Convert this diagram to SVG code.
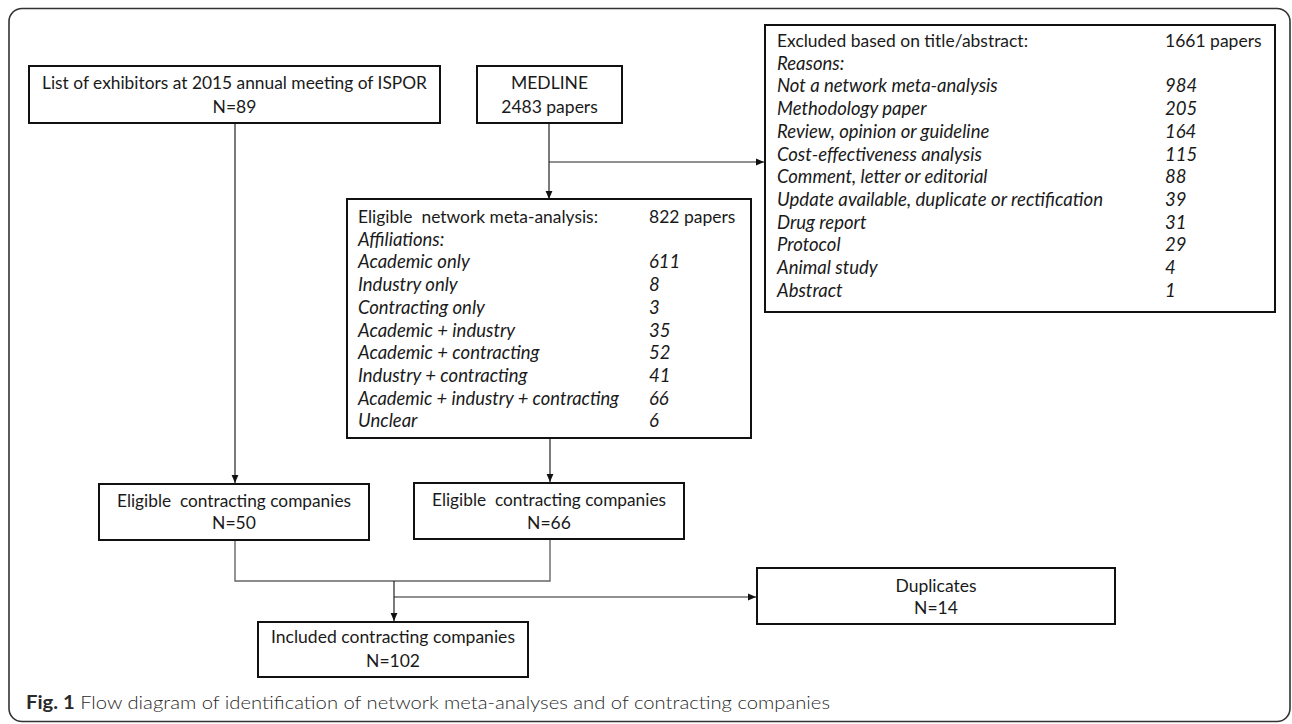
<svg xmlns="http://www.w3.org/2000/svg" width="1292" height="724" viewBox="0 0 1292 724">
<style>
.box{fill:#fff;stroke:#111;stroke-width:2}
.t{font-family:Lato,"Liberation Sans",sans-serif;font-size:17.5px;fill:#1a1a1a}
.c{text-anchor:middle}
.i{font-style:italic;font-size:18.5px}
.ln{fill:none;stroke:#222;stroke-width:1.2}
.lg{fill:none;stroke:#666;stroke-width:1.4}
.cap{font-family:Lato,"Liberation Sans",sans-serif;font-size:18.5px;fill:#2a2a2a;font-weight:300}
</style>
<defs>
<marker id="arr" viewBox="0 0 8 8" refX="8" refY="4" markerWidth="8" markerHeight="8" markerUnits="userSpaceOnUse" orient="auto">
<path d="M0,0.6 L8,4 L0,7.4 z" fill="#111"/>
</marker>
</defs>
<rect x="9" y="8.5" width="1281" height="713" rx="13" ry="13" fill="#fff" stroke="#333" stroke-width="1.6"/>

<g id="connectors">
<path class="ln" d="M235,123 V483" marker-end="url(#arr)"/>
<path class="ln" d="M549,123 V199" marker-end="url(#arr)"/>
<path class="ln" d="M549,162 H764" marker-end="url(#arr)"/>
<path class="ln" d="M550,439 V482" marker-end="url(#arr)"/>
<path class="lg" d="M235,540 V581 H550 V539"/>
<path class="ln" d="M394,581 V621" marker-end="url(#arr)"/>
<path class="ln" d="M394,597 H756" marker-end="url(#arr)"/>
</g>

<g id="ispor">
<rect class="box" x="29" y="66" width="411" height="57"/>
<text class="t c" x="234.5" y="89" textLength="385" lengthAdjust="spacingAndGlyphs">List of exhibitors at 2015 annual meeting of ISPOR</text>
<text class="t c" x="234.5" y="113">N=89</text>
</g>

<g id="medline">
<rect class="box" x="477" y="66" width="145" height="57"/>
<text class="t c" x="549.5" y="89">MEDLINE</text>
<text class="t c" x="549.5" y="113">2483 papers</text>
</g>

<g id="excluded">
<rect class="box" x="765" y="25" width="510" height="287"/>
<text class="t" x="777" y="47" textLength="251" lengthAdjust="spacingAndGlyphs">Excluded based on title/abstract:</text>
<text class="t" x="1165" y="47">1661 papers</text>
<text class="t i" x="777" y="69.7">Reasons:</text>
<text class="t i" x="777" y="92.4">Not a network meta-analysis</text>
<text class="t i" x="1165" y="92.4">984</text>
<text class="t i" x="777" y="115.1">Methodology paper</text>
<text class="t i" x="1165" y="115.1">205</text>
<text class="t i" x="777" y="137.8">Review, opinion or guideline</text>
<text class="t i" x="1165" y="137.8">164</text>
<text class="t i" x="777" y="160.5">Cost-effectiveness analysis</text>
<text class="t i" x="1165" y="160.5">115</text>
<text class="t i" x="777" y="183.2">Comment, letter or editorial</text>
<text class="t i" x="1165" y="183.2">88</text>
<text class="t i" x="777" y="205.9" textLength="326" lengthAdjust="spacingAndGlyphs">Update available, duplicate or rectification</text>
<text class="t i" x="1165" y="205.9">39</text>
<text class="t i" x="777" y="228.6">Drug report</text>
<text class="t i" x="1165" y="228.6">31</text>
<text class="t i" x="777" y="251.3">Protocol</text>
<text class="t i" x="1165" y="251.3">29</text>
<text class="t i" x="777" y="274">Animal study</text>
<text class="t i" x="1165" y="274">4</text>
<text class="t i" x="777" y="296.7">Abstract</text>
<text class="t i" x="1165" y="296.7">1</text>
</g>

<g id="eligible-nma">
<rect class="box" x="347" y="199" width="404" height="239"/>
<text class="t" x="358" y="223" textLength="240" lengthAdjust="spacingAndGlyphs" xml:space="preserve">Eligible  network meta-analysis:</text>
<text class="t" x="649" y="223">822 papers</text>
<text class="t i" x="358" y="245.7">Affiliations:</text>
<text class="t i" x="358" y="268.4">Academic only</text>
<text class="t i" x="649" y="268.4">611</text>
<text class="t i" x="358" y="291.1">Industry only</text>
<text class="t i" x="649" y="291.1">8</text>
<text class="t i" x="358" y="313.8">Contracting only</text>
<text class="t i" x="649" y="313.8">3</text>
<text class="t i" x="358" y="336.5">Academic + industry</text>
<text class="t i" x="649" y="336.5">35</text>
<text class="t i" x="358" y="359.2">Academic + contracting</text>
<text class="t i" x="649" y="359.2">52</text>
<text class="t i" x="358" y="381.9">Industry + contracting</text>
<text class="t i" x="649" y="381.9">41</text>
<text class="t i" x="358" y="404.6" textLength="261" lengthAdjust="spacingAndGlyphs">Academic + industry + contracting</text>
<text class="t i" x="649" y="404.6">66</text>
<text class="t i" x="358" y="427.3">Unclear</text>
<text class="t i" x="649" y="427.3">6</text>
</g>

<g id="eligible-50">
<rect class="box" x="99" y="484" width="270" height="56"/>
<text class="t c" x="234" y="507" textLength="234" lengthAdjust="spacingAndGlyphs" xml:space="preserve">Eligible  contracting companies</text>
<text class="t c" x="234" y="529">N=50</text>
</g>

<g id="eligible-66">
<rect class="box" x="414" y="483" width="270" height="56"/>
<text class="t c" x="549" y="506" textLength="234" lengthAdjust="spacingAndGlyphs" xml:space="preserve">Eligible  contracting companies</text>
<text class="t c" x="549" y="529">N=66</text>
</g>

<g id="included">
<rect class="box" x="258" y="622" width="270" height="55"/>
<text class="t c" x="393" y="643" textLength="244" lengthAdjust="spacingAndGlyphs">Included contracting companies</text>
<text class="t c" x="393" y="667">N=102</text>
</g>

<g id="duplicates">
<rect class="box" x="757" y="568" width="358" height="56"/>
<text class="t c" x="936" y="592">Duplicates</text>
<text class="t c" x="936" y="614">N=14</text>
</g>

<text class="cap" x="26" y="709" textLength="804" lengthAdjust="spacingAndGlyphs"><tspan font-weight="bold">Fig. 1</tspan> Flow diagram of identification of network meta-analyses and of contracting companies</text>
</svg>
